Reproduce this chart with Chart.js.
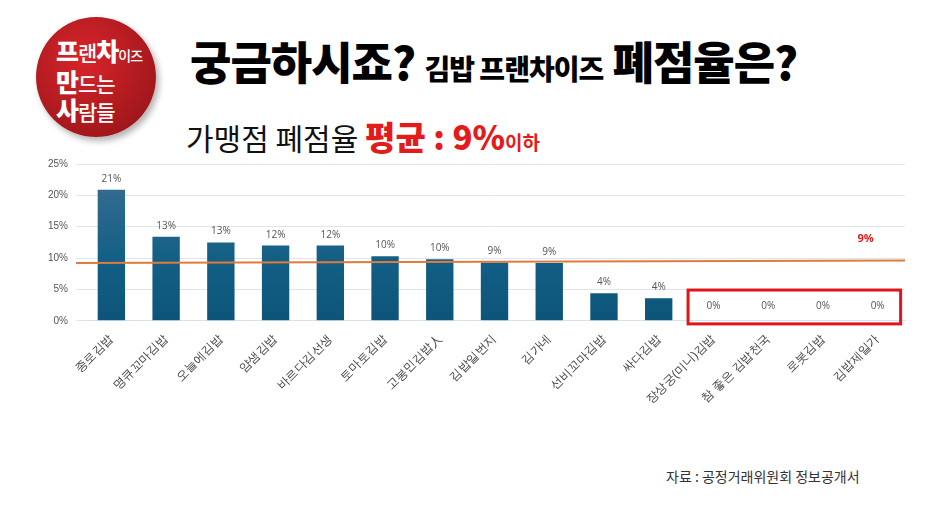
<!DOCTYPE html>
<html><head><meta charset="utf-8">
<script src="https://cdn.jsdelivr.net/npm/chart.js@4"></script>
<style>
body{margin:0;width:936px;height:522px;background:#fff;font-family:"Noto Sans CJK KR","Noto Sans",sans-serif;position:relative;overflow:hidden}
.logo{position:absolute;left:36px;top:17px;width:120px;height:120px;border-radius:50%;background:radial-gradient(circle at 40% 35%,#d8252b,#8e1216);box-shadow:3px 4px 6px rgba(0,0,0,.3);color:#fff;font-weight:900;line-height:26px;font-size:25px;box-sizing:border-box;padding:20px 0 0 20px;letter-spacing:-1px}
.logo small{font-size:21px;font-weight:500}
.logo i{font-style:normal;font-size:14px;font-weight:500}
.t1{position:absolute;left:190px;top:34px;font-size:45px;font-weight:900;color:#000;letter-spacing:-1px;line-height:54px;white-space:nowrap}
.t1 span{font-size:28px}
.t2{position:absolute;left:186px;top:116px;font-size:30px;color:#111;line-height:40px;white-space:nowrap}
.t2 b{color:#e41b1b;font-weight:900;font-size:33px}
.t2 small{color:#e41b1b;font-size:19px;font-weight:700}
.src{position:absolute;left:666px;top:466px;font-size:14px;color:#333}
#wrap{position:absolute;left:40px;top:150px;width:885px;height:260px}
</style></head><body>
<div class="logo">프<small>랜</small>차<i>이즈</i><br>만<small>드는</small><br>사<small>람들</small></div>
<div class="t1">궁금하시죠? <span>김밥 프랜차이즈</span> 폐점율은?</div>
<div class="t2">가맹점 폐점율 <b>평균 : 9%</b><small>이하</small></div>
<div class="src">자료 :  공정거래위원회 정보공개서</div>
<div id="wrap"><canvas id="c"></canvas></div>
<script>
const brands=['종로김밥','명큐꼬마김밥','오늘에김밥','얌샘김밥','바르다김선생','토마토김밥','고봉민김밥人','김밥일번지','김가네','선비꼬마김밥','싸다김밥','장상궁(미니)김밥','참 좋은 김밥천국','로봇김밥','김밥제일가'];
const rates=[20.9,13.4,12.5,12,12,10.3,9.8,9.3,9.2,4.4,3.6,0,0,0,0];
const rateLabels=['21%','13%','13%','12%','12%','10%','10%','9%','9%','4%','4%','0%','0%','0%','0%'];
const averageStart=9.2, averageEnd=9.6;
const yTicks=[0,5,10,15,20,25];

const extras={id:'extras',
 afterDatasetsDraw(ch){
  const {ctx,chartArea:a,scales:{x,y}}=ch;
  ctx.save();
  ctx.strokeStyle='#e07b3c';ctx.lineWidth=2;
  ctx.beginPath();ctx.moveTo(a.left-8,y.getPixelForValue(averageStart));ctx.lineTo(a.right,y.getPixelForValue(averageEnd));ctx.stroke();
  ctx.font='10px "Open Sans",sans-serif';ctx.fillStyle='#555';ctx.textAlign='center';
  rates.forEach((v,i)=>ctx.fillText(rateLabels[i],x.getPixelForValue(i),v>0?y.getPixelForValue(v)-8:y.getPixelForValue(1.8)));
  ctx.fillStyle='#e41b1b';ctx.font='bold 11px "Open Sans",sans-serif';
  ctx.fillText('9%',x.getPixelForValue(14)-12,y.getPixelForValue(12.5));
  const step=x.getPixelForValue(1)-x.getPixelForValue(0);
  ctx.strokeStyle='#e0141b';ctx.lineWidth=3;
  const l=x.getPixelForValue(11)-step*0.5+2,r=x.getPixelForValue(14)+step*0.42;
  ctx.strokeRect(l,y.getPixelForValue(4.9),r-l,y.getPixelForValue(-0.5)-y.getPixelForValue(4.9));
  ctx.restore();
}};
new Chart(document.getElementById('c'),{
  data:{labels:brands,datasets:[
    {type:'bar',data:rates,backgroundColor:c=>{const a=c.chart.chartArea;if(!a)return '#155a80';const g=c.chart.ctx.createLinearGradient(0,a.top,0,a.bottom);g.addColorStop(0,'#3e6f92');g.addColorStop(0.6,'#135f86');g.addColorStop(1,'#0d5479');return g;},barPercentage:0.5,categoryPercentage:1}
  ]},
  options:{responsive:true,maintainAspectRatio:false,animation:false,
    layout:{padding:{top:7,right:20}},
    plugins:{legend:{display:false},tooltip:{enabled:false}},
    scales:{
      x:{grid:{display:false},border:{color:'#d8e2ea'},ticks:{color:'#444',font:{size:12},maxRotation:45,minRotation:45}},
      y:{min:0,max:25,afterBuildTicks:s=>{s.ticks=yTicks.map(v=>({value:v}))},grid:{color:'#dde6ee'},border:{display:false},ticks:{color:'#555',font:{size:10},padding:8,callback:v=>v+'%'}}
    }},
  plugins:[extras]
});
</script></body></html>
